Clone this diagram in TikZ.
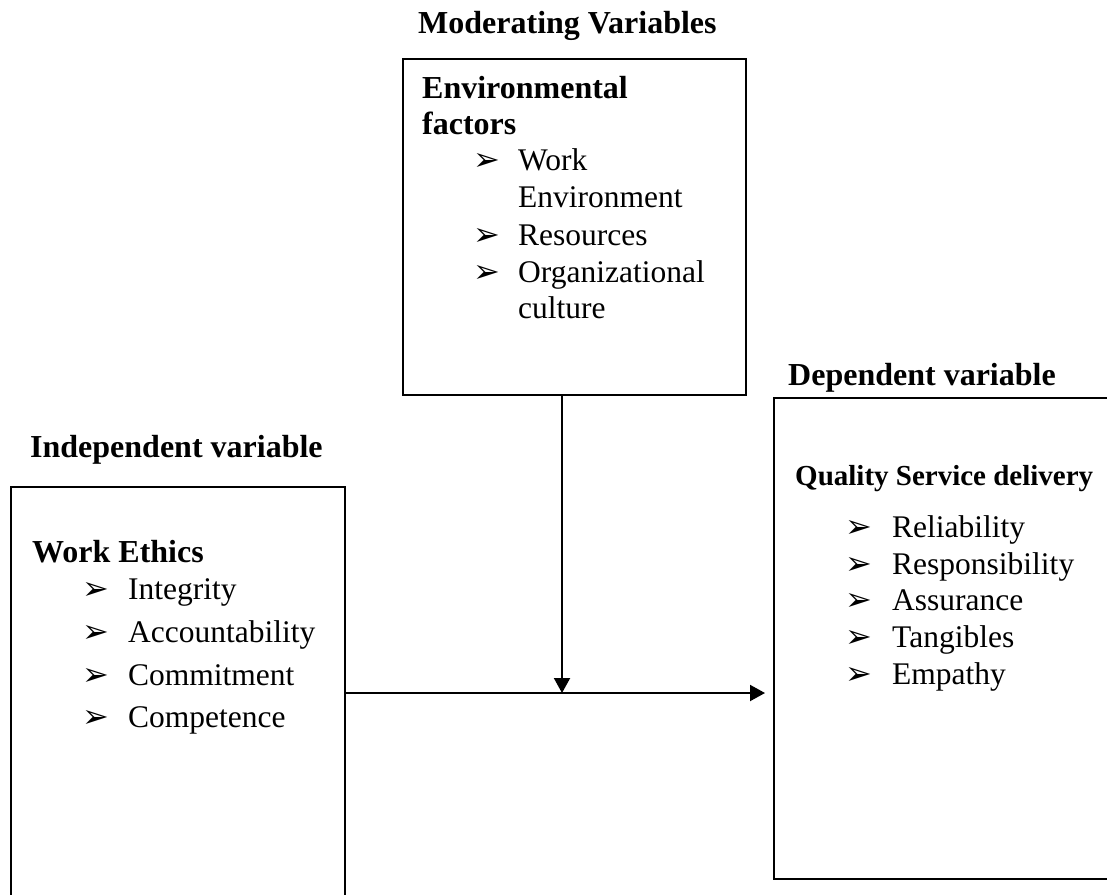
\documentclass[tikz,border=0pt]{standalone}
\usepackage{fontspec}
\setmainfont{Liberation Serif}
\newfontfamily\dingfont{DejaVu Sans}
\usetikzlibrary{arrows.meta}

\newcommand\bul{{\dingfont\fontsize{32}{32}\selectfont ➢}}

\begin{document}
\begin{tikzpicture}[x=1pt,y=-1pt,
	box/.style={draw,line width=2pt,anchor=north west,inner sep=0pt},
	head/.style={anchor=base west,inner sep=0pt,font=\fontsize{32}{37}\selectfont\bfseries},
	item/.style={anchor=base west,inner sep=0pt,font=\fontsize{31.5}{37}\selectfont},
	bullet/.style={anchor=base west,inner sep=0pt},
	link/.style={line width=2pt,-{Triangle[length=15pt,width=16pt]}}
	]
	\useasboundingbox (0,0) rectangle (1107,894);
	\clip (0,0) rectangle (1107,894);
	
	% boxes
	\node[box,minimum width=343pt,minimum height=336pt] (mod) at (402,58) {};
	\node[box,minimum width=334pt,minimum height=460pt] (ind) at (10,486) {};
	\node[box,minimum width=360pt,minimum height=481pt] (dep) at (773,397) {};
	
	% moderating variables
	\node[head] (modH) at (418,33) {Moderating Variables};
	\node[head] (env1) at (422,98) {Environmental};
	\node[head] (env2) at (422,134) {factors};
	\node[bullet] (mb1) at (473,170) {\bul}; \node[item] (m1) at (518,170) {Work};
	\node[item] (m1b) at (518,207) {Environment};
	\node[bullet] (mb2) at (473,245) {\bul}; \node[item] (m2) at (518,245) {Resources};
	\node[bullet] (mb3) at (473,282) {\bul}; \node[item] (m3) at (518,282) {Organizational};
	\node[item] (m3b) at (518,318) {culture};
	
	% independent variable
	\node[head] (indH) at (30,457) {Independent variable};
	\node[head] (eth) at (32,562) {Work Ethics};
	\node[bullet] (ib1) at (82,599) {\bul}; \node[item] (i1) at (128,599) {Integrity};
	\node[bullet] (ib2) at (82,642) {\bul}; \node[item] (i2) at (128,642) {Accountability};
	\node[bullet] (ib3) at (82,685) {\bul}; \node[item] (i3) at (128,685) {Commitment};
	\node[bullet] (ib4) at (82,727) {\bul}; \node[item] (i4) at (128,727) {Competence};
	
	% dependent variable
	\node[head] (depH) at (788,385) {Dependent variable};
	\node[head,font=\fontsize{29}{34}\selectfont\bfseries] (qsd) at (795,485) {Quality Service delivery};
	\node[bullet] (db1) at (845,537) {\bul}; \node[item] (d1) at (892,537) {Reliability};
	\node[bullet] (db2) at (845,574) {\bul}; \node[item] (d2) at (892,574) {Responsibility};
	\node[bullet] (db3) at (845,610) {\bul}; \node[item] (d3) at (892,610) {Assurance};
	\node[bullet] (db4) at (845,647) {\bul}; \node[item] (d4) at (892,647) {Tangibles};
	\node[bullet] (db5) at (845,684) {\bul}; \node[item] (d5) at (892,684) {Empathy};
	
	% arrows
	\coordinate (meet) at (562,693);
	\draw[link] (mod.south -| meet) -- (meet);
	\draw[link,shorten >=8pt] (ind.east |- meet) -- (dep.west |- meet);
\end{tikzpicture}
\end{document}
